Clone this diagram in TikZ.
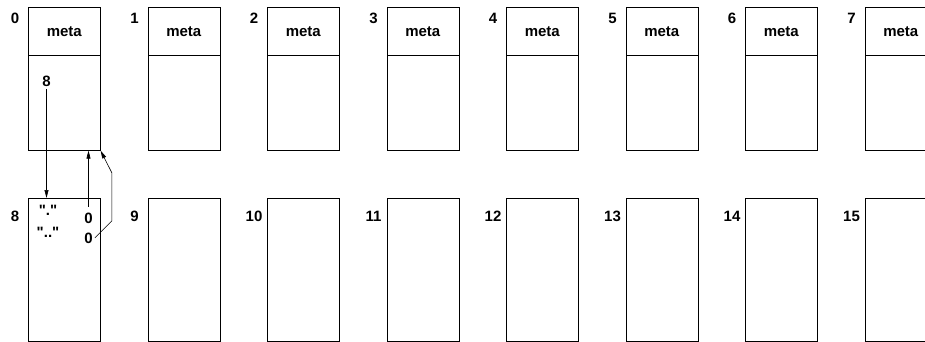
\documentclass[tikz,border=0pt]{standalone}
\usepackage{fontspec}
\setmainfont{Liberation Sans}[Ligatures=TeXOff]
\usetikzlibrary{positioning, arrows.meta}

\tikzset{
  block/.style={draw, line width=0.6pt, minimum width=72pt, minimum height=143pt,
    inner sep=0pt, anchor=north west},
  header/.style={draw, line width=0.6pt, minimum width=72pt, minimum height=48pt,
    inner sep=0pt, anchor=north},
  num/.style={anchor=north, inner sep=0pt},
  entry/.style={anchor=base, inner sep=2pt},
  ptr/.style={line width=0.6pt, -{Triangle[length=8pt,width=4pt]}}
}

\begin{document}
\begin{tikzpicture}[x=1pt, y=1pt, font=\fontsize{15}{18}\selectfont\bfseries]
  \useasboundingbox (0,0) rectangle (925,-342);

  % top row of blocks
  \foreach \i in {0,...,7} {
    \node[block] (blk\i) at (28+119.5*\i, -7) {};
    \node[header] (hdr\i) at (blk\i.north) {meta};
    \node[num] (lbl\i) at ([xshift=-13pt, yshift=-6pt]blk\i.north west) {\i};
  }
  % bottom row of blocks
  \foreach \i in {8,...,15} {
    \node[block] (blk\i) at (28+119.5*\i-956, -198) {};
    \node[num] (lbl\i) at ([xshift=-13pt, yshift=-13pt]blk\i.north west) {\i};
  }

  % contents
  \node[entry] (d8) at ([xshift=18.5pt, yshift=-80pt]blk0.north west) {8};
  \node[entry] (q1) at ([xshift=20pt, yshift=-17.7pt]blk8.north west) {"."};
  \node[entry] (z1) at ([xshift=60.5pt, yshift=-25.3pt]blk8.north west) {0};
  \node[entry] (q2) at ([xshift=20pt, yshift=-39pt]blk8.north west) {".."};
  \node[entry] (z2) at ([xshift=60.5pt, yshift=-45pt]blk8.north west) {0};

  % pointers
  \draw[ptr] (d8.south) -- (d8.south |- blk8.north);
  \draw[ptr] ([yshift=4pt]z1.north) -- (z1.north |- blk0.south);
  \draw[ptr] (z2.east) -- ++(17,17) -- ++(0,48) -- (blk0.south east);
\end{tikzpicture}
\end{document}
